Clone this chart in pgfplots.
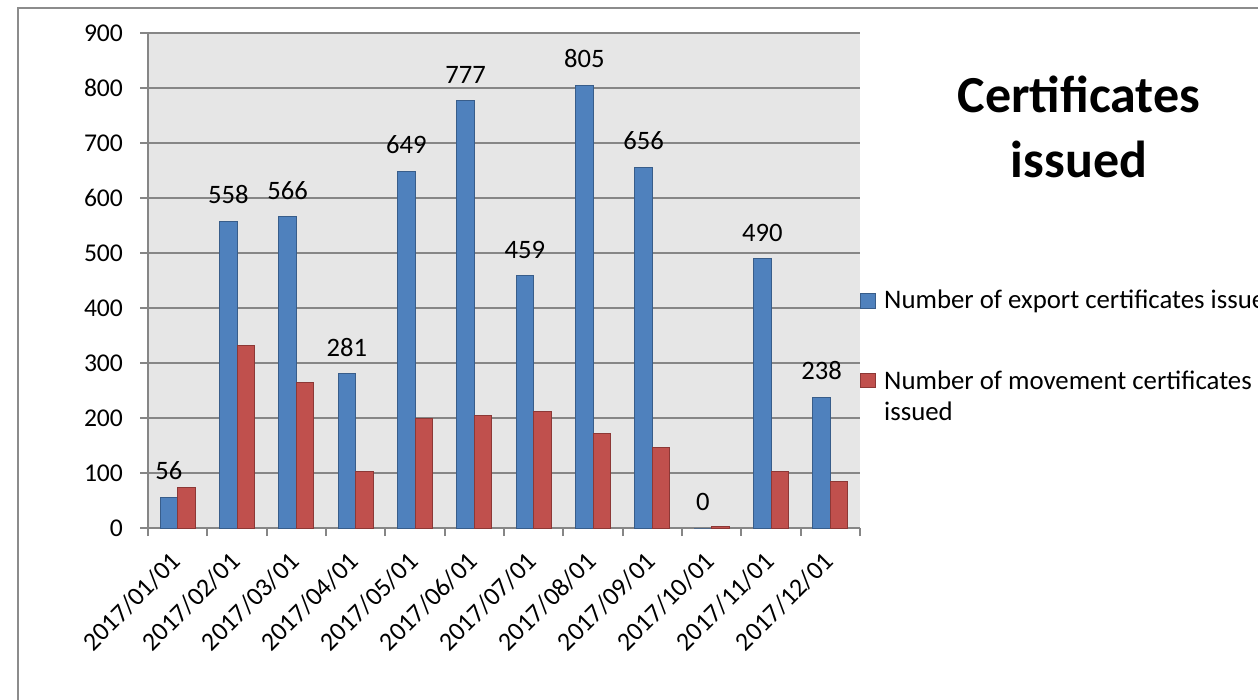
\documentclass[border=0pt]{standalone}
\usepackage{fontspec}
\setmainfont{Carlito}
\usepackage{pgfplots}
\pgfplotsset{compat=1.18}
\definecolor{barblue}{HTML}{4F81BD}
\definecolor{barblueedge}{HTML}{385D8A}
\definecolor{barred}{HTML}{C0504D}
\definecolor{barrededge}{HTML}{8C3836}
\definecolor{gridgray}{HTML}{868686}
\definecolor{plotbg}{HTML}{E6E6E6}
\definecolor{framegray}{HTML}{8C8C8C}

\pgfplotsset{
  /pgfplots/ybar legend/.style={
    /pgfplots/legend image code/.code={%
      \draw[##1,/tikz/.cd,line width=0.5pt] (0pt,-3.6pt) rectangle (7.4pt,3.6pt);},
  },
}

\begin{document}
\begin{tikzpicture}
\clip (0,0) rectangle (629pt,-350pt);
\draw[framegray, line width=1pt] (9pt,-4pt) rectangle (700pt,-400pt);
\begin{axis}[
  at={(74pt,-264pt)}, anchor=south west,
  scale only axis, width=356pt, height=247.5pt,
  ybar=0pt, bar width=8.75pt,
  xmin=-0.5, xmax=11.5, ymin=0, ymax=900,
  axis background/.style={fill=plotbg},
  axis lines=left, axis line style={gridgray, line width=1pt, -},
  ymajorgrids, grid style={gridgray, line width=1pt},
  ytick={0,100,...,900},
  xtick={0,...,11},
  xticklabels={2017/01/01,2017/02/01,2017/03/01,2017/04/01,2017/05/01,2017/06/01,2017/07/01,2017/08/01,2017/09/01,2017/10/01,2017/11/01,2017/12/01},
  minor xtick={-0.5,0.5,...,11.5},
  major x tick style={draw=none},
  tick style={gridgray, line width=1pt},
  tick align=outside, major tick length=4pt, minor tick length=4pt,
  /pgf/number format/assume math mode=true,
  yticklabel style={font=\fontsize{12.8}{15}\selectfont, xshift=-5pt},
  xticklabel style={font=\fontsize{13}{15}\selectfont, xshift=-4.2pt, yshift=-7pt, rotate=45, anchor=north east, inner sep=0pt},
  title={Certificates\\issued},
  title style={at={(1.3076,0.889)}, anchor=north, align=center, inner sep=0pt, font=\bfseries\fontsize{26}{32.5}\selectfont},
  legend style={at={(1.0,0.489)}, anchor=north west, draw=none, fill=none,
    font=\fontsize{13.4}{15.5}\selectfont, row sep=24pt, column sep=2pt, inner sep=0pt},
  legend cell align=left,
]
\addplot[fill=barblue, draw=barblueedge, line width=0.5pt,
  nodes near coords, nodes near coords align={vertical},
  every node near coord/.append style={font=\fontsize{13.3}{15}\selectfont, black, yshift=5pt}]
  coordinates {(0,56) (1,558) (2,566) (3,281) (4,649) (5,777) (6,459) (7,805) (8,656) (9,0) (10,490) (11,238)};
\addplot[fill=barred, draw=barrededge, line width=0.5pt]
  coordinates {(0,74) (1,331) (2,264) (3,102) (4,200) (5,204) (6,212) (7,172) (8,146) (9,2) (10,102) (11,84)};
\legend{Number of export certificates issued, {\begin{tabular}[t]{@{}l@{}}Number of movement certificates\\issued\end{tabular}}}
\end{axis}
\end{tikzpicture}
\end{document}
